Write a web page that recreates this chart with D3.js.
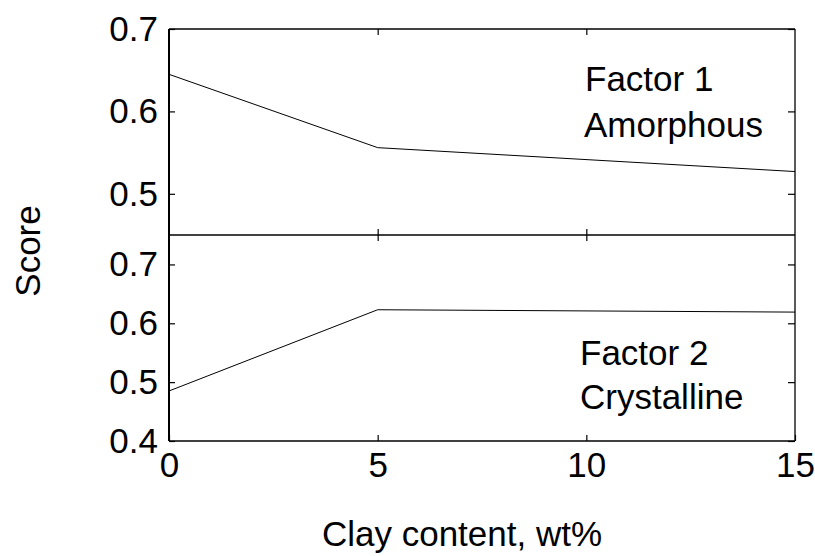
<!DOCTYPE html>
<html>
<head>
<meta charset="utf-8">
<script src="https://cdn.jsdelivr.net/npm/d3@7"></script>
<style>
  html, body { margin: 0; padding: 0; background: #fff; }
  svg { display: block; font-family: "Liberation Sans", Arial, sans-serif; }
</style>
</head>
<body>
<script>
// ---- data ----
const clayContent = [0, 5, 15];
const factor1Amorphous = [0.645, 0.556, 0.527];
const factor2Crystalline = [0.485, 0.623, 0.619];
const xTicks = [0, 5, 10, 15];
const topYTicks = [0.5, 0.6, 0.7];
const bottomYTicks = [0.4, 0.5, 0.6, 0.7];
const topDomain = [0.45, 0.7];
const bottomDomain = [0.4, 0.75];
const xLabel = "Clay content, wt%";
const yLabel = "Score";
const topNote = ["Factor 1", "Amorphous"];
const bottomNote = ["Factor 2", "Crystalline"];

// ---- layout ----
const W = 815, H = 556;
const L = 169, R = 795, T = 29, M = 235, B = 441;
const FS = 35;

const svg = d3.select("body").append("svg").attr("width", W).attr("height", H);

const x = d3.scaleLinear().domain([0, 15]).range([L, R]);
const yTop = d3.scaleLinear().domain(topDomain).range([M, T]);
const yBot = d3.scaleLinear().domain(bottomDomain).range([B, M]);

function styleAxis(g, showText) {
  g.select(".domain").remove();
  g.selectAll(".tick line").attr("stroke", "#000").attr("stroke-width", 1.2);
  g.selectAll("text").attr("fill", "#000").attr("font-size", FS)
    .attr("font-family", '"Liberation Sans", Arial, sans-serif');
  if (!showText) g.selectAll("text").remove();
}

// left axes
svg.append("g").attr("transform", `translate(${L},0)`)
  .call(d3.axisLeft(yTop).tickValues(topYTicks).tickSize(-6).tickPadding(11).tickFormat(d3.format(".1f")))
  .call(g => styleAxis(g, true));
svg.append("g").attr("transform", `translate(${L},0)`)
  .call(d3.axisLeft(yBot).tickValues(bottomYTicks).tickSize(-6).tickPadding(11).tickFormat(d3.format(".1f")))
  .call(g => styleAxis(g, true));

// right axes (ticks only)
svg.append("g").attr("transform", `translate(${R},0)`)
  .call(d3.axisRight(yTop).tickValues(topYTicks).tickSize(-7))
  .call(g => styleAxis(g, false));
svg.append("g").attr("transform", `translate(${R},0)`)
  .call(d3.axisRight(yBot).tickValues(bottomYTicks).tickSize(-7))
  .call(g => styleAxis(g, false));

// top border ticks
svg.append("g").attr("transform", `translate(0,${T})`)
  .call(d3.axisTop(x).tickValues([5, 10]).tickSize(-6))
  .call(g => styleAxis(g, false));
// divider ticks (both directions)
svg.append("g").attr("transform", `translate(0,${M})`)
  .call(d3.axisBottom(x).tickValues([5, 10]).tickSize(-6))
  .call(g => styleAxis(g, false));
svg.append("g").attr("transform", `translate(0,${M})`)
  .call(d3.axisTop(x).tickValues([5, 10]).tickSize(-6))
  .call(g => styleAxis(g, false));
// bottom axis with labels
svg.append("g").attr("transform", `translate(0,${B})`)
  .call(d3.axisBottom(x).tickValues(xTicks).tickSize(-6).tickPadding(11).tickFormat(d3.format("d")))
  .call(g => styleAxis(g, true));

// frames
const frame = svg.append("g").attr("stroke", "#000").attr("fill", "none");
frame.append("line").attr("x1", L).attr("x2", R).attr("y1", T).attr("y2", T).attr("stroke-width", 1.3);
frame.append("line").attr("x1", L).attr("x2", R).attr("y1", M).attr("y2", M).attr("stroke-width", 1.3);
frame.append("line").attr("x1", L).attr("x2", R).attr("y1", B).attr("y2", B).attr("stroke-width", 1.4);
frame.append("line").attr("x1", L).attr("x2", L).attr("y1", T).attr("y2", B).attr("stroke-width", 2);
frame.append("line").attr("x1", R).attr("x2", R).attr("y1", T).attr("y2", B).attr("stroke-width", 1.3);

// data lines
const lineTop = d3.line().x((d, i) => x(clayContent[i])).y(d => yTop(d));
const lineBot = d3.line().x((d, i) => x(clayContent[i])).y(d => yBot(d));
svg.append("path").datum(factor1Amorphous).attr("d", lineTop)
  .attr("fill", "none").attr("stroke", "#000").attr("stroke-width", 1);
svg.append("path").datum(factor2Crystalline).attr("d", lineBot)
  .attr("fill", "none").attr("stroke", "#000").attr("stroke-width", 1);

// annotations
const txt = (s, tx, ty) => svg.append("text").attr("x", tx).attr("y", ty)
  .attr("font-size", FS).attr("fill", "#000").text(s);
txt(topNote[0], 585, 91);
txt(topNote[1], 584, 137);
txt(bottomNote[0], 580, 365);
txt(bottomNote[1], 580, 409);

// axis labels
svg.append("text").attr("x", 462).attr("y", 546).attr("text-anchor", "middle")
  .attr("font-size", FS).attr("fill", "#000").text(xLabel);
svg.append("text").attr("transform", "translate(40,251) rotate(-90)").attr("text-anchor", "middle")
  .attr("font-size", FS).attr("fill", "#000").text(yLabel);
</script>
</body>
</html>
